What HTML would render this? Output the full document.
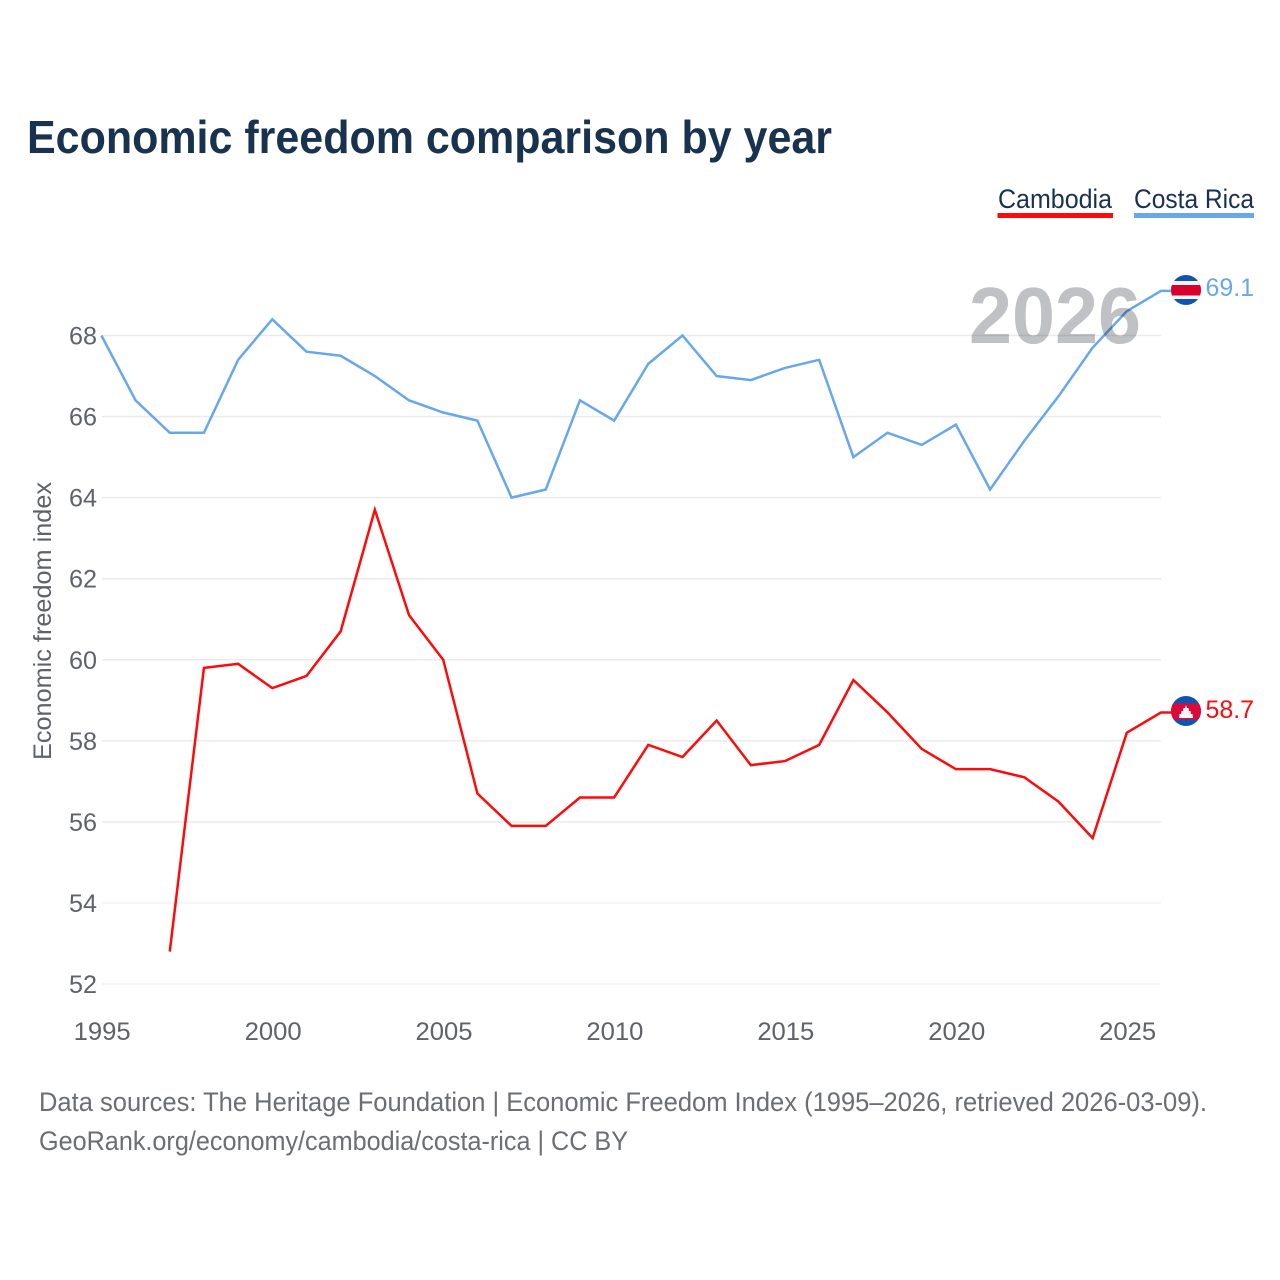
<!DOCTYPE html>
<html lang="en">
<head>
<meta charset="utf-8">
<title>Economic freedom comparison by year</title>
<style>
html,body{margin:0;padding:0;background:#fff;}
svg{display:block;}
text{font-family:"Liberation Sans",sans-serif;}
.tick{font-size:25px;fill:#5f6368;}
.foot{font-size:26.5px;fill:#6b6e72;}
.leg{font-size:27px;fill:#1a3050;}
</style>
</head>
<body>
<svg id="chart" width="1280" height="1280" viewBox="0 0 1280 1280" xmlns="http://www.w3.org/2000/svg">
  <defs>
    <clipPath id="clip-cr"><circle cx="1186" cy="290" r="15"/></clipPath>
    <clipPath id="clip-kh"><circle cx="1186" cy="711" r="15"/></clipPath>
  </defs>
  <rect x="0" y="0" width="1280" height="1280" fill="#ffffff"/>
  <text x="27" y="153" font-size="46" font-weight="700" fill="#18324f" textLength="805" lengthAdjust="spacingAndGlyphs">Economic freedom comparison by year</text>

  <g>
    <text class="leg" x="998" y="208" textLength="114" lengthAdjust="spacingAndGlyphs">Cambodia</text>
    <rect x="997.5" y="213" width="115.5" height="5" fill="#ff0a0a"/>
  </g>
  <g>
    <text class="leg" x="1134" y="208" textLength="120" lengthAdjust="spacingAndGlyphs">Costa Rica</text>
    <rect x="1134" y="213" width="120" height="5" fill="#68a8ea"/>
  </g>

  <g id="grid"></g>
  <g id="yticks"></g>
  <g id="xticks"></g>
  <text transform="translate(51,760) rotate(-90)" font-size="25" fill="#5f6368" textLength="278" lengthAdjust="spacingAndGlyphs">Economic freedom index</text>
  <g id="series"></g>

  <text x="969" y="343" font-size="80" font-weight="700" fill="#bfc1c4" style="mix-blend-mode:multiply" textLength="172" lengthAdjust="spacingAndGlyphs">2026</text>

  <g clip-path="url(#clip-cr)">
    <rect x="1171" y="275" width="30" height="30" fill="#0f55b0"/>
    <rect x="1171" y="281" width="30" height="18" fill="#f4f4f4"/>
    <rect x="1171" y="285" width="30" height="10.5" fill="#d9002b"/>
  </g>
  <g clip-path="url(#clip-kh)">
    <rect x="1171" y="696" width="30" height="30" fill="#0f55b0"/>
    <rect x="1171" y="703.5" width="30" height="16" fill="#dc0a3a"/>
    <polygon points="1179,718 1179.5,714 1181,714 1181.5,711 1183,711 1183.5,708 1185,708 1186,705 1187,708 1188.5,708 1189,711 1190.5,711 1191,714 1192.5,714 1193,718" fill="#f7f7f7"/>
  </g>
  <text id="end-cr" x="1205.5" y="296" font-size="25" fill="#68a8ea" textLength="48.5" lengthAdjust="spacingAndGlyphs"></text>
  <text id="end-kh" x="1205.5" y="718" font-size="25" fill="#ff0a0a" textLength="48.5" lengthAdjust="spacingAndGlyphs"></text>

  <text class="foot" x="39" y="1111" textLength="1168" lengthAdjust="spacingAndGlyphs">Data sources: The Heritage Foundation | Economic Freedom Index (1995–2026, retrieved 2026-03-09).</text>
  <text class="foot" x="39" y="1150" textLength="589" lengthAdjust="spacingAndGlyphs">GeoRank.org/economy/cambodia/costa-rica | CC BY</text>
</svg>
<script>
const years = [1995,1996,1997,1998,1999,2000,2001,2002,2003,2004,2005,2006,2007,2008,2009,2010,2011,2012,2013,2014,2015,2016,2017,2018,2019,2020,2021,2022,2023,2024,2025,2026];
const costaRica = [68.0,66.4,65.6,65.6,67.4,68.4,67.6,67.5,67.0,66.4,66.1,65.9,64.0,64.2,66.4,65.9,67.3,68.0,67.0,66.9,67.2,67.4,65.0,65.6,65.3,65.8,64.2,65.4,66.5,67.7,68.6,69.1];
const cambodia = [null,null,52.8,59.8,59.9,59.3,59.6,60.7,63.7,61.1,60.0,56.7,55.9,55.9,56.6,56.6,57.9,57.6,58.5,57.4,57.5,57.9,59.5,58.7,57.8,57.3,57.3,57.1,56.5,55.6,58.2,58.7];
const yTickValues = [52,54,56,58,60,62,64,66,68];
const xTickValues = [1995,2000,2005,2010,2015,2020,2025];

const NS = 'http://www.w3.org/2000/svg';
function xScale(year){ return 101.4 + (year - 1995) * (1161 - 101.4) / 31; }
function yScale(v){ return 984 - (v - 52) * (984 - 335.5) / 16; }

const grid = document.getElementById('grid');
const yticks = document.getElementById('yticks');
const xticks = document.getElementById('xticks');
const series = document.getElementById('series');

yTickValues.forEach(function(v){
  const line = document.createElementNS(NS, 'line');
  
  
  line.setAttribute('x1', 102);
  line.setAttribute('x2', 1161);
  line.setAttribute('y1', yScale(v));
  line.setAttribute('y2', yScale(v));
  line.setAttribute('stroke', '#ebebeb');
  line.setAttribute('stroke-width', v === 54 || v === 52 ? 1 : 1.5);
  grid.appendChild(line);

  const t = document.createElementNS(NS, 'text');
  
  
  t.setAttribute('class', 'tick');
  t.setAttribute('x', 69);
  t.setAttribute('y', yScale(v) + 9);
  t.setAttribute('textLength', 28);
  t.setAttribute('lengthAdjust', 'spacingAndGlyphs');
  t.textContent = String(v);
  yticks.appendChild(t);
});

xTickValues.forEach(function(year){
  const t = document.createElementNS(NS, 'text');
  
  
  t.setAttribute('class', 'tick');
  t.setAttribute('x', xScale(year) - 27.7);
  t.setAttribute('y', 1040);
  t.setAttribute('textLength', 57);
  t.setAttribute('lengthAdjust', 'spacingAndGlyphs');
  t.textContent = String(year);
  xticks.appendChild(t);
});

function linePoints(values){
  const pts = [];
  values.forEach(function(v, i){
    if (v !== null) pts.push(xScale(years[i]).toFixed(2) + ',' + yScale(v).toFixed(2));
  });
  const last = values[values.length - 1];
  pts.push('1172,' + yScale(last).toFixed(2));
  return pts.join(' ');
}

const lineCambodia = document.createElementNS(NS, 'polyline');


lineCambodia.setAttribute('points', linePoints(cambodia));
lineCambodia.setAttribute('fill', 'none');
lineCambodia.setAttribute('stroke', '#ff0a0a');
lineCambodia.setAttribute('stroke-width', '2.5');
series.appendChild(lineCambodia);

const lineCostaRica = document.createElementNS(NS, 'polyline');


lineCostaRica.setAttribute('points', linePoints(costaRica));
lineCostaRica.setAttribute('fill', 'none');
lineCostaRica.setAttribute('stroke', '#68a8ea');
lineCostaRica.setAttribute('stroke-width', '2.5');
series.appendChild(lineCostaRica);

document.getElementById('end-cr').textContent = costaRica[costaRica.length - 1].toFixed(1);
document.getElementById('end-kh').textContent = cambodia[cambodia.length - 1].toFixed(1);
</script>
</body>
</html>
